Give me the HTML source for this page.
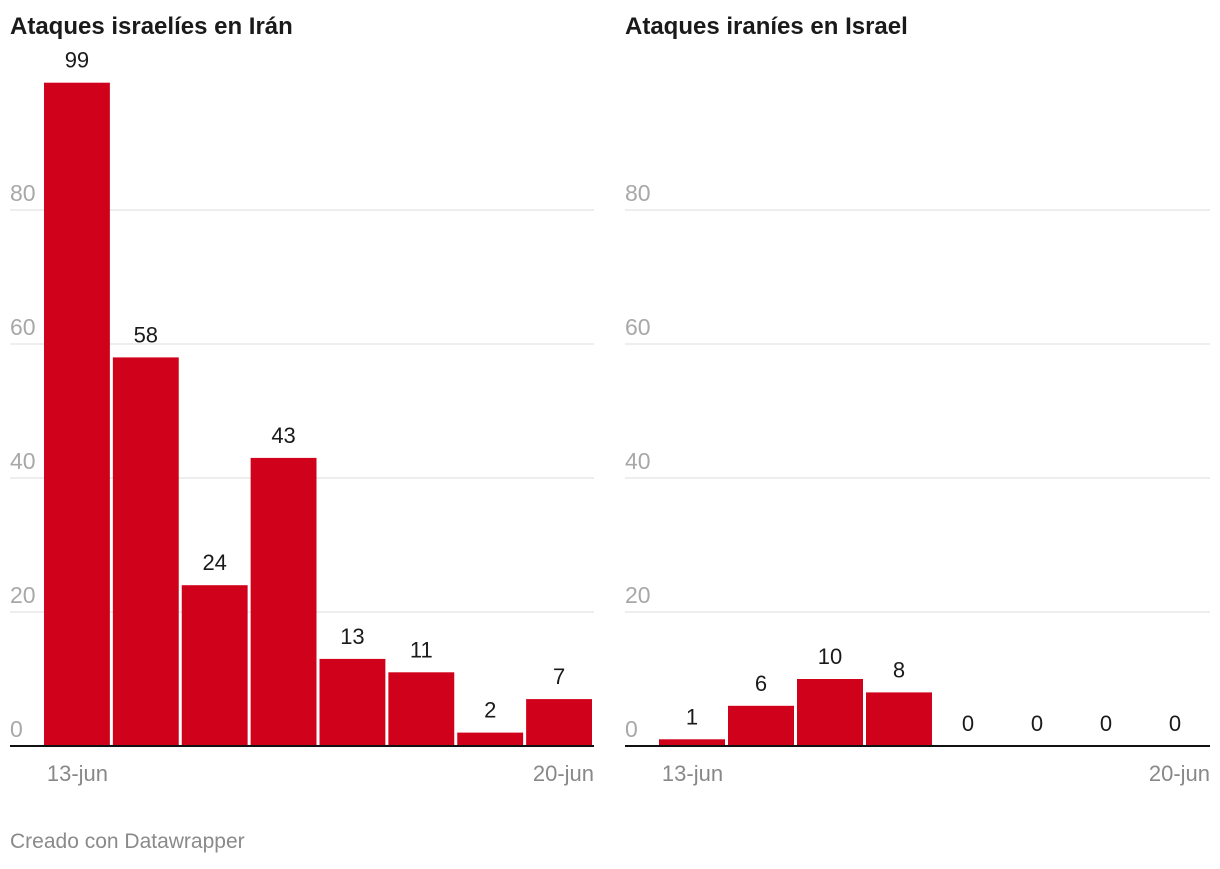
<!DOCTYPE html>
<html><head><meta charset="utf-8">
<style>
body{margin:0;background:#fff;width:1220px;height:864px;overflow:hidden;font-family:"Liberation Sans",Arial,sans-serif;}
svg text{font-family:"Liberation Sans",Arial,sans-serif;}
</style></head>
<body>
<svg id="chart" width="1220" height="864" viewBox="0 0 1220 864">
<text x="10" y="34" font-size="24" font-weight="bold" fill="#1a1a1a">Ataques israelíes en Irán</text>
<text x="625" y="34" font-size="24" font-weight="bold" fill="#1a1a1a">Ataques iraníes en Israel</text>
<text x="10" y="848" font-size="21" fill="#8a8a8a">Creado con Datawrapper</text>
<g id="left"></g>
<g id="right"></g>
</svg>
<script>
const categories = ["13-jun","14-jun","15-jun","16-jun","17-jun","18-jun","19-jun","20-jun"];
const israelStrikes = [99,58,24,43,13,11,2,7];
const iranStrikes = [1,6,10,8,0,0,0,0];
const yTicks = [0,20,40,60,80];
const xTickLabels = ["13-jun","20-jun"];

const NS="http://www.w3.org/2000/svg";
const baseY=746, pxPerUnit=6.7;
function yScale(v){return baseY - v*pxPerUnit;}
function mk(tag,attrs,parent){const e=document.createElementNS(NS,tag);for(const k in attrs)e.setAttribute(k,attrs[k]);parent.appendChild(e);return e;}

function drawPanel(gid,gridX0,gridX1,barX0,values,prefix){
  const g=document.getElementById(gid);
  const step=(gridX1-barX0)/categories.length;
  function xScale(i){return barX0+i*step;}
  yTicks.forEach(t=>{
    if(t>0){
      const l=mk('line',{x1:gridX0,x2:gridX1,y1:yScale(t),y2:yScale(t),stroke:'#dcdcdc','stroke-width':1},g);
      
      
    }
    const tx=mk('text',{x:gridX0,y:yScale(t)-9,'font-size':23,fill:'#a8a8a8'},g);
    tx.textContent=t;
    
    
  });
  values.forEach((v,i)=>{
    const x=xScale(i)+1, w=step-3;
    if(v>0){
      const r=mk('rect',{x:x,y:yScale(v),width:w,height:baseY-yScale(v),fill:'#d0021b'},g);
      
      
    }
    const t=mk('text',{x:x+w/2,y:yScale(v)-15,'font-size':22,fill:'#1a1a1a','text-anchor':'middle'},g);
    t.textContent=v;
    
    
  });
  const b=mk('line',{x1:gridX0,x2:gridX1,y1:baseY,y2:baseY,stroke:'#111','stroke-width':2},g);
  
  
  const a=mk('text',{x:xScale(0)+step/2,y:781,'font-size':22,fill:'#888','text-anchor':'middle'},g);
  a.textContent=xTickLabels[0];
  
  
  const c=mk('text',{x:gridX1,y:781,'font-size':22,fill:'#888','text-anchor':'end'},g);
  c.textContent=xTickLabels[1];
  
  
}
drawPanel('left',10,594,43,israelStrikes,'left');
drawPanel('right',625,1210,658,iranStrikes,'right');
</script>
</body></html>
